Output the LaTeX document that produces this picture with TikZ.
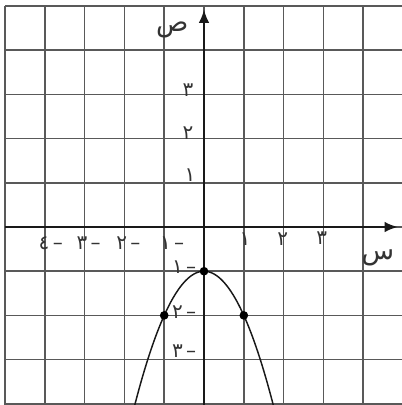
\documentclass[tikz,border=0pt]{standalone}
\usepackage{fontspec}
\newfontfamily\arabicfont[Script=Arabic]{DejaVu Sans}
\TeXXeTstate=1
\usetikzlibrary{arrows.meta}
\tikzset{
  gridline/.style={draw=black!65, line width=1.1pt},
  axisline/.style={draw=black!90, line width=1.6pt, -{Latex[length=10pt,width=8pt]}},
  curveline/.style={draw=black!90, line width=1.1pt},
  dotmark/.style={circle, fill=black, inner sep=0pt, minimum size=6.5pt},
  numlab/.style={font=\arabicfont\fontsize{15}{17}\selectfont, inner sep=0pt, text=black!80},
  axlab/.style={font=\arabicfont\fontsize{20}{22}\selectfont, inner sep=0pt, text=black!80}
}
\begin{document}
\begin{tikzpicture}[x=29.85pt, y=33.15pt]
\useasboundingbox (-5.126,-4.027) rectangle (4.95,5.136);
\fill[white] (-5.126,-4.027) rectangle (4.95,5.136);
% grid
\foreach \i in {-5,...,4} \draw[gridline] (\i,-4.1) -- (\i,5);
\foreach \j in {-4,...,5} \draw[gridline] (-5,\j) -- (5,\j);
% axes
\coordinate (xs) at (-5,0);
\coordinate (xe) at (4.87,0);
\coordinate (ys) at (0,-4.1);
\coordinate (ye) at (0,4.92);
\draw[axisline] (xs) -- (xe);
\draw[axisline] (ys) -- (ye);
% parabola
\draw[curveline, domain=-1.76:1.76, samples=80] plot (\x, {-(\x)*(\x)-1});
\node[dotmark] (v) at (0,-1) {};
\node[dotmark] (pl) at (-1,-2) {};
\node[dotmark] (pr) at (1,-2) {};
% x labels
\node[numlab] (x1) at (1.03,-0.27) {١};
\node[numlab] (x2) at (1.98,-0.27) {٢};
\node[numlab] (x3) at (2.96,-0.25) {٣};
\node[numlab] (xm4) at (-3.85,-0.36) {٤\,–};
\node[numlab] (xm3) at (-2.90,-0.36) {٣\,–};
\node[numlab] (xm2) at (-1.90,-0.36) {٢\,–};
\node[numlab] (xm1) at (-0.80,-0.36) {١\,–};
% y labels
\node[numlab] (y1) at (-0.35,1.18) {١};
\node[numlab] (y2) at (-0.40,2.13) {٢};
\node[numlab] (y3) at (-0.40,3.10) {٣};
\node[numlab] (ym1) at (-0.50,-0.905) {١\,–};
\node[numlab] (ym2) at (-0.50,-1.92) {٢\,–};
\node[numlab] (ym3) at (-0.50,-2.80) {٣\,–};
% axis names
\node[axlab] (ylab) at (-0.80,4.45) {\beginR ص\endR};
\node[axlab] (xlab) at (4.37,-0.70) {\beginR س\endR};
\end{tikzpicture}
\end{document}
